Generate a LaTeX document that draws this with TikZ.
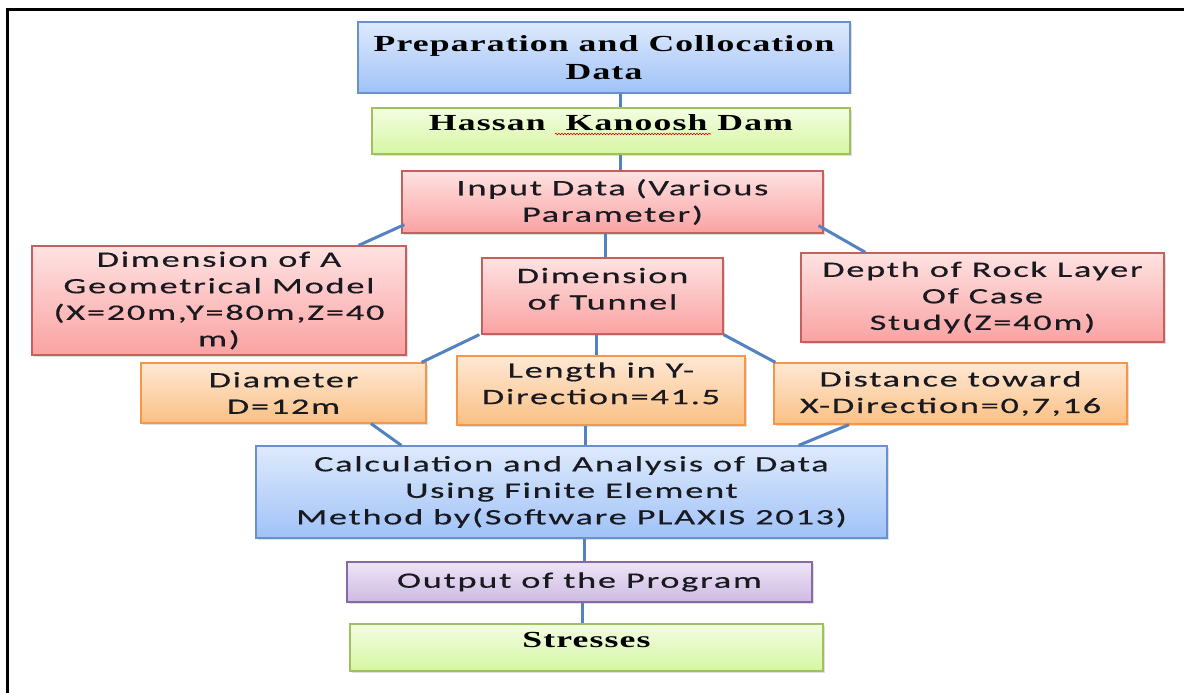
\documentclass[tikz,border=0pt]{standalone}
\usepackage{fontspec}
\usetikzlibrary{shadows,decorations.pathmorphing}
\setmainfont{Liberation Serif}
\newfontfamily\headf{Liberation Serif}[FakeStretch=1.55,LetterSpace=5]
\newfontfamily\sansf{Carlito}[FakeStretch=1.65,LetterSpace=8,FakeBold=0.4]
\definecolor{blueT}{RGB}{222,234,252}
\definecolor{blueB}{RGB}{160,194,248}
\definecolor{blueD}{RGB}{105,145,205}
\definecolor{greenT}{RGB}{243,253,225}
\definecolor{greenB}{RGB}{214,246,162}
\definecolor{greenD}{RGB}{158,192,95}
\definecolor{redT}{RGB}{255,226,226}
\definecolor{redB}{RGB}{250,162,162}
\definecolor{redD}{RGB}{200,95,92}
\definecolor{orT}{RGB}{255,232,212}
\definecolor{orB}{RGB}{250,192,132}
\definecolor{orD}{RGB}{246,150,72}
\definecolor{puT}{RGB}{238,228,246}
\definecolor{puB}{RGB}{205,186,226}
\definecolor{puD}{RGB}{135,105,165}
\definecolor{link}{RGB}{82,130,192}
\definecolor{ink}{RGB}{25,25,32}
\tikzset{
  box/.style={draw, line width=1.3pt, align=center, inner sep=0pt, text=ink,
    drop shadow={shadow xshift=1.5pt, shadow yshift=-1.5pt, opacity=0.25}},
  sbox/.style={box, font=\sansf\fontsize{22}{26.5}\selectfont},
  hbox/.style={box, text=black, font=\headf\bfseries\fontsize{23}{28}\selectfont},
  bluebox/.style={draw=blueD, top color=blueT, bottom color=blueB},
  greenbox/.style={draw=greenD, top color=greenT, bottom color=greenB},
  redbox/.style={draw=redD, top color=redT, bottom color=redB},
  orbox/.style={draw=orD, top color=orT, bottom color=orB},
  pubox/.style={draw=puD, top color=puT, bottom color=puB},
  conn/.style={draw=link, line width=3pt},
}
\begin{document}
\begin{tikzpicture}[x=1pt,y=-1pt]
\useasboundingbox (0,0) rectangle (1184,693);
\fill[white] (0,0) rectangle (1184,693);
\draw[line width=3pt] (7,693) -- (7,10) -- (1184,10);

\node[hbox,bluebox,minimum width=492pt,minimum height=71pt] (prep) at (604,57.5)
  {Preparation and Collocation\\Data};
\node[hbox,greenbox,minimum width=478pt,minimum height=46pt] (hassan) at (611,131)
  {Hassan\ \ Kanoosh Dam\\[-12pt]\mbox{}};
\node[sbox,redbox,minimum width=421pt,minimum height=62pt] (input) at (612.5,202)
  {Input Data (Various\\Parameter)};
\node[sbox,redbox,minimum width=374pt,minimum height=109pt] (dimA) at (219,300.5)
  {Dimension of A\\Geometrical Model\\(X=20m,Y=80m,Z=40\\m)};
\node[sbox,redbox,minimum width=241pt,minimum height=76pt] (tunnel) at (602.5,296)
  {Dimension\\of Tunnel\\[-12pt]\mbox{}};
\node[sbox,redbox,minimum width=363pt,minimum height=89pt] (depth) at (982.5,297.5)
  {Depth of Rock Layer\\Of Case\\Study(Z=40m)};
\node[sbox,orbox,minimum width=285pt,minimum height=60pt] (diam) at (283.5,393)
  {Diameter\\D=12m};
\node[sbox,orbox,minimum width=288pt,minimum height=69pt] (length) at (601,390.5)
  {Length in Y-\\Direction=41.5\\[-12pt]\mbox{}};
\node[sbox,orbox,minimum width=353pt,minimum height=61pt] (dist) at (950.5,393.5)
  {Distance toward\\X-Direction=0,7,16};
\node[sbox,bluebox,minimum width=631pt,minimum height=92pt] (calc) at (571.5,492)
  {Calculation and Analysis of Data\\Using Finite Element\\Method by(Software PLAXIS 2013)};
\node[sbox,pubox,minimum width=465pt,minimum height=40pt] (out) at (579.5,582)
  {Output of the Program};
\node[hbox,greenbox,minimum width=473pt,minimum height=47pt] (stress) at (586.5,647.5)
  {Stresses\\[-12pt]\mbox{}};

\draw[red!85!black, line width=0.6pt, decorate,
  decoration={snake, amplitude=0.8pt, segment length=3pt}] (555,134) -- (711,134);

\draw[conn] ([xshift=16pt]prep.south) -- ([xshift=9pt]hassan.north);
\draw[conn] ([xshift=9pt]hassan.south) -- ([xshift=7.5pt]input.north);
\draw[conn] ([shift={(3pt,9pt)}]input.south west) -- ([xshift=-48pt]dimA.north east);
\draw[conn] ([shift={(-5pt,8pt)}]input.south east) -- ([xshift=65pt]depth.north west);
\draw[conn] ([xshift=-7.5pt]input.south) -- ([xshift=2.5pt]tunnel.north);
\draw[conn] ([xshift=-2pt]tunnel.south west) -- ([xshift=-5pt]diam.north east);
\draw[conn] ([xshift=-6.5pt]tunnel.south) -- ([xshift=-5pt]length.north);
\draw[conn] (tunnel.south east) -- ([xshift=2pt]dist.north west);
\draw[conn] ([xshift=87.5pt]diam.south) -- ([xshift=146pt]calc.north west);
\draw[conn] ([xshift=-16pt]length.south) -- ([xshift=13.5pt]calc.north);
\draw[conn] ([xshift=-101.5pt]dist.south) -- ([xshift=-89pt]calc.north east);
\draw[conn] ([xshift=12.5pt]calc.south) -- ([xshift=4.5pt]out.north);
\draw[conn] ([xshift=2.5pt]out.south) -- ([xshift=-4.5pt]stress.north);
\end{tikzpicture}
\end{document}
